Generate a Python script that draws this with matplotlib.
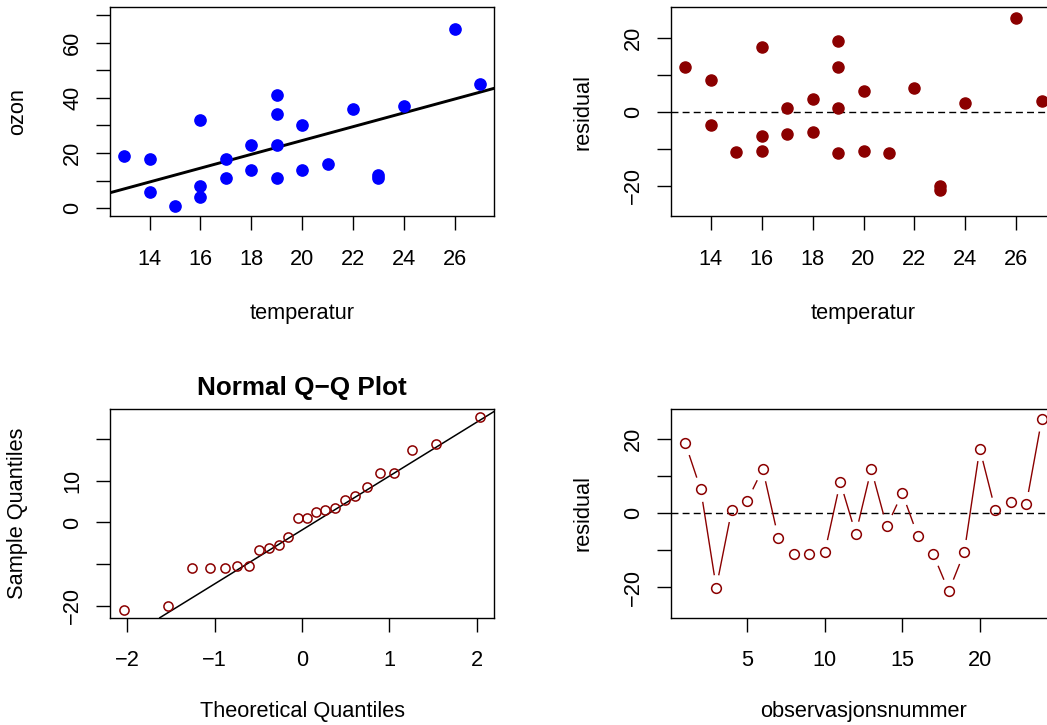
import numpy as np
import matplotlib
matplotlib.use("Agg")
import matplotlib.pyplot as plt
from statistics import NormalDist

# ---- data (observation order) ----
temperatur = [19, 22, 23, 17, 18, 13, 16, 15, 19, 16, 14, 18,
              19, 14, 20, 17, 21, 23, 20, 16, 19, 27, 24, 26]
ozon = [41, 36, 12, 18, 23, 19, 8, 1, 11, 4, 18, 14,
        34, 6, 30, 11, 16, 11, 14, 32, 23, 45, 37, 65]

temp_ticks = [14, 16, 18, 20, 22, 24, 26]
ozon_ticks = [0, 10, 20, 30, 40, 50, 60, 70]
ozon_ticklabels = ["0", "", "20", "", "40", "", "60", ""]
resid_ticks = [-20, -10, 0, 10, 20]
resid_ticklabels = ["\u221220", "", "0", "", "20"]
qq_xticks = [-2, -1, 0, 1, 2]
qq_xticklabels = ["\u22122", "\u22121", "0", "1", "2"]
qq_yticklabels = ["\u221220", "", "0", "10", ""]
obs_ticks = [5, 10, 15, 20]

# ---- model (lm ozon ~ temperatur) ----
x = np.array(temperatur, float)
y = np.array(ozon, float)
slope, intercept = np.polyfit(x, y, 1)
resid = y - (intercept + slope * x)
obs = np.arange(1, len(resid) + 1)

n = len(resid)
nd = NormalDist()
theo = np.array([nd.inv_cdf((i - 0.5) / n) for i in range(1, n + 1)])
samp = np.sort(resid)
q1, q3 = np.percentile(resid, [25, 75])
t1, t3 = nd.inv_cdf(0.25), nd.inv_cdf(0.75)
qq_slope = (q3 - q1) / (t3 - t1)
qq_int = q1 - qq_slope * t1

# ---- style ----
plt.rcParams['font.family'] = ['Liberation Sans', 'DejaVu Sans']
FS = 15.7
DARKRED = '#8B0000'
W, H = 1047, 725
fig = plt.figure(figsize=(W / 100, H / 100), dpi=100)


def box(l, t, r, b):
    return [l / W, 1 - b / H, (r - l) / W, (b - t) / H]


def ext(lo, hi):
    d = (hi - lo) * 0.04
    return lo - d, hi + d


def style(ax, xt, xl, yt, yl):
    ax.set_xticks(xt)
    ax.set_xticklabels(xl)
    ax.set_yticks(yt)
    ax.set_yticklabels(yl)
    ax.tick_params(direction='out', length=10.1, width=1.0, labelsize=FS,
                   color='black', labelcolor='black')
    ax.tick_params(axis='x', pad=13.5)
    ax.tick_params(axis='y', pad=12.7)
    for lab in ax.get_yticklabels():
        lab.set_rotation(90)
        lab.set_rotation_mode('anchor')
        lab.set_ha('center')
        lab.set_va('baseline')
    for s in ax.spines.values():
        s.set_linewidth(1.0)
        s.set_color('black')


def xlab(text, cx, base):
    fig.text(cx / W, 1 - base / H, text, ha='center', va='baseline', fontsize=FS)


def ylab(text, bx, cy):
    fig.text(bx / W, 1 - cy / H, text, ha='center', va='baseline', fontsize=FS,
             rotation=90, rotation_mode='anchor')


L1, R1 = 110, 494.3
L2, R2 = 671, 1056
T1, B1 = 7.3, 216
T2, B2 = 409, 617.7

# top-left: scatter with regression line
ax1 = fig.add_axes(box(L1, T1, R1, B1))
ax1.plot(temperatur, ozon, 'o', color='#0000FF', ms=8.1, mec='#0000FF', zorder=3)
ax1.axline((0, intercept), slope=slope, color='black', lw=2.1, zorder=2)
ax1.set_xlim(*ext(min(temperatur), max(temperatur)))
ax1.set_ylim(*ext(0, 70))
style(ax1, temp_ticks, [str(t) for t in temp_ticks], ozon_ticks, ozon_ticklabels)
xlab('temperatur', (L1 + R1) / 2, 319)
ylab('ozon', 23, (T1 + B1) / 2)

# top-right: residuals vs temperature
ax2 = fig.add_axes(box(L2, T1, R2, B1))
ax2.plot(temperatur, resid, 'o', color=DARKRED, ms=8.0, mec=DARKRED, zorder=3)
ax2.axhline(0, color='black', lw=1.0, ls=(0, (5, 3)), zorder=2)
ax2.set_xlim(*ext(min(temperatur), max(temperatur)))
ax2.set_ylim(-28.2, 28.2)
style(ax2, temp_ticks, [str(t) for t in temp_ticks], resid_ticks, resid_ticklabels)
xlab('temperatur', (L2 + R2) / 2, 319)
ylab('residual', 588, (T1 + B1) / 2)

# bottom-left: normal QQ plot
ax3 = fig.add_axes(box(L1, T2, R1, B2))
ax3.plot(theo, samp, 'o', mfc='none', mec=DARKRED, ms=6.6, mew=1.1, zorder=3)
ax3.axline((0, qq_int), slope=qq_slope, color='black', lw=1.1, zorder=2)
ax3.set_xlim(*ext(theo.min(), theo.max()))
ax3.set_ylim(*ext(samp.min(), samp.max()))
style(ax3, qq_xticks, qq_xticklabels, resid_ticks, qq_yticklabels)
xlab('Theoretical Quantiles', (L1 + R1) / 2, 717)
ylab('Sample Quantiles', 23, (T2 + B2) / 2)
fig.text((L1 + R1) / 2 / W, 1 - 395 / H, 'Normal Q\u2212Q Plot', ha='center',
         va='baseline', fontsize=18.8, fontweight='bold')

# bottom-right: residuals vs observation number (type "b")
ax4 = fig.add_axes(box(L2, T2, R2, B2))
ax4.set_xlim(*ext(obs.min(), obs.max()))
ax4.set_ylim(-28.2, 28.2)
style(ax4, obs_ticks, [str(t) for t in obs_ticks], resid_ticks, resid_ticklabels)
ax4.axhline(0, color='black', lw=1.0, ls=(0, (5, 3)), zorder=2)
pts = ax4.transData.transform(np.column_stack([obs, resid]))
gap = 12.5
inv = ax4.transData.inverted()
for i in range(n - 1):
    p0, p1 = pts[i], pts[i + 1]
    d = p1 - p0
    Ld = np.hypot(*d)
    if Ld > 2 * gap:
        a = p0 + d / Ld * gap
        b = p1 - d / Ld * gap
        seg = inv.transform(np.vstack([a, b]))
        ax4.plot(seg[:, 0], seg[:, 1], color=DARKRED, lw=1.0, zorder=2.5,
                 solid_capstyle='butt')
ax4.plot(obs, resid, 'o', mfc='none', mec=DARKRED, ms=7.0, mew=1.1, zorder=3,
         clip_on=False)
xlab('observasjonsnummer', (L2 + R2) / 2, 717)
ylab('residual', 588, (T2 + B2) / 2)

fig.savefig('out.png', dpi=100)
